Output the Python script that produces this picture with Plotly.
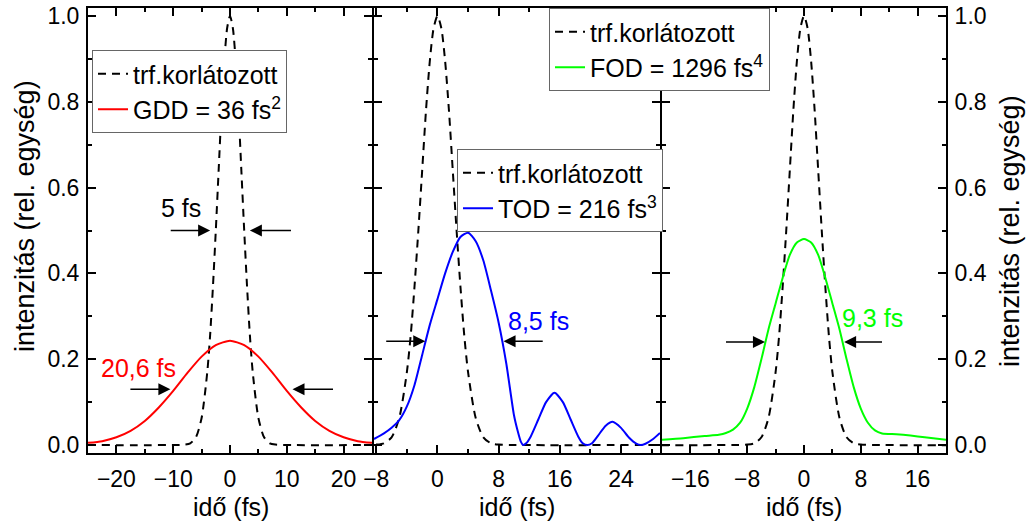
import plotly.graph_objects as go

# ---------------- data ----------------
# transform-limited pulse (dashed, shown in every panel)
t_tl = [-30, -10, -8, -7, -6, -5, -4, -3.5, -3, -2.5, -2, -1.5, -1, -0.5, 0,
        0.5, 1, 1.5, 2, 2.5, 3, 3.5, 4, 5, 6, 7, 8, 10, 30]
i_tl = [0, 0, 0.001, 0.004, 0.018, 0.063, 0.17, 0.256, 0.37, 0.5, 0.64, 0.78, 0.895, 0.972, 1.0,
        0.972, 0.895, 0.78, 0.64, 0.5, 0.37, 0.256, 0.17, 0.063, 0.018, 0.004, 0.001, 0, 0]

# GDD = 36 fs^2 (red)
t_gdd = [-25, -22.5, -20, -17.5, -15, -12.5, -10, -7.5, -5, -2.5, 0,
         2.5, 5, 7.5, 10, 12.5, 15, 17.5, 20, 22.5, 25]
i_gdd = [0.005, 0.009, 0.018, 0.033, 0.056, 0.088, 0.126, 0.168, 0.206, 0.233, 0.243,
         0.233, 0.206, 0.168, 0.126, 0.088, 0.056, 0.033, 0.018, 0.009, 0.005]

# TOD = 216 fs^3 (blue)
t_tod = [-8.3, -7, -6, -5, -4, -3, -2, -1, 0, 1, 2, 3, 4, 5, 6, 7, 8, 9, 10, 10.5, 10.9, 11.2,
         11.6, 12.2, 13.2, 14.2, 15.3, 16.4, 17.4, 18.4, 19.0, 19.6, 20.2, 21, 22, 22.9, 24, 25,
         26, 26.6, 27.2, 28.2, 29.1]
i_tod = [0.014, 0.027, 0.04, 0.058, 0.09, 0.14, 0.21, 0.28, 0.34, 0.40, 0.45, 0.485, 0.495, 0.475,
         0.43, 0.36, 0.285, 0.19, 0.07, 0.032, 0.008, 0.0,
         0.004, 0.02, 0.06, 0.1, 0.122, 0.1, 0.06, 0.02, 0.004, 0.0, 0.004, 0.022, 0.045, 0.054,
         0.04, 0.018, 0.003, 0.0, 0.003, 0.014, 0.028]

# FOD = 1296 fs^4 (green)
t_fod = [-20, -17, -14, -12, -11, -10, -9, -8, -7, -6, -5, -4, -3, -2, -1, 0,
         1, 2, 3, 4, 5, 6, 7, 8, 9, 10, 11, 13, 15, 17, 20]
i_fod = [0.012, 0.016, 0.021, 0.024, 0.028, 0.036, 0.052, 0.085, 0.135, 0.2, 0.27, 0.33, 0.39, 0.443, 0.472, 0.48,
         0.472, 0.443, 0.39, 0.33, 0.27, 0.2, 0.135, 0.085, 0.052, 0.034, 0.027, 0.025, 0.022, 0.018, 0.012]

legend_tl = "trf.korlátozott"
legend_gdd = "GDD = 36 fs<sup>2</sup>"
legend_tod = "TOD = 216 fs<sup>3</sup>"
legend_fod = "FOD = 1296 fs<sup>4</sup>"

# FWHM labels
fwhm_labels = ["5 fs", "20,6 fs", "8,5 fs", "9,3 fs"]

FONT = "Liberation Sans, Arial, sans-serif"
RED, BLUE, GREEN = "#ff0000", "#0000ff", "#00ff00"
DASH = "8px,6px"

fig = go.Figure()

def add_pair(xa, ya, leg, t, i, name, color):
    fig.add_trace(go.Scatter(x=t_tl, y=i_tl, mode="lines", name=legend_tl,
                             line=dict(color="black", width=2, dash=DASH, shape="spline", smoothing=0.7),
                             xaxis=xa, yaxis=ya, legend=leg))
    fig.add_trace(go.Scatter(x=t, y=i, mode="lines", name=name,
                             line=dict(color=color, width=2, shape="spline", smoothing=0.6),
                             xaxis=xa, yaxis=ya, legend=leg))

add_pair("x", "y", "legend", t_gdd, i_gdd, legend_gdd, RED)
add_pair("x2", "y2", "legend2", t_tod, i_tod, legend_tod, BLUE)
add_pair("x3", "y3", "legend3", t_fod, i_fod, legend_fod, GREEN)

W, H = 1027, 529
def px(x):
    return x / W
def py(y):
    return 1 - y / H

x_dom = [(88, 372), (374, 660), (662, 946)]
y_dom = [py(453), py(8)]
x_ranges = [[-25, 25], [-8.3, 29.1], [-20, 20]]
x_dticks = [(10, 5), (8, 4), (8, 4)]

common_axis = dict(showline=True, linewidth=2, linecolor="black", mirror="allticks",
                   ticks="inside", ticklen=8, tickwidth=2, tickcolor="black",
                   showgrid=False, zeroline=False, automargin=False,
                   tickfont=dict(family=FONT, size=23, color="black"))

layout = dict()
for k in range(3):
    sx = "" if k == 0 else str(k + 1)
    layout["xaxis" + sx] = dict(common_axis, domain=[px(x_dom[k][0]), px(x_dom[k][1])],
                                range=x_ranges[k], dtick=x_dticks[k][0], tick0=0,
                                anchor="y" + sx, ticklabelstandoff=4,
                                minor=dict(ticks="inside", ticklen=4, tickwidth=2, tickcolor="black",
                                           dtick=x_dticks[k][1], tick0=0, showgrid=False))
    layout["yaxis" + sx] = dict(common_axis, domain=y_dom, range=[-0.0186, 1.0186],
                                dtick=0.2, tick0=0, tickformat=".1f", anchor="x" + sx,
                                ticklabelstandoff=2,
                                showticklabels=(k != 1), side=("right" if k == 2 else "left"),
                                minor=dict(ticks="inside", ticklen=4, tickwidth=2, tickcolor="black",
                                           dtick=0.1, tick0=0, showgrid=False))

leg_common = dict(xanchor="left", yanchor="top", bgcolor="white", bordercolor="#666666",
                  borderwidth=1, font=dict(family=FONT, size=25, color="black"),
                  tracegroupgap=0, traceorder="normal")
layout["legend"] = dict(leg_common, x=px(92), y=py(50))
layout["legend2"] = dict(leg_common, x=px(457), y=py(149))
layout["legend3"] = dict(leg_common, x=px(549), y=py(8))

fig.update_layout(**layout)

ann = []
# axis titles
for cx in (231, 517, 804):
    ann.append(dict(text="idő (fs)", x=px(cx), y=py(507), xref="paper", yref="paper",
                    showarrow=False, font=dict(family=FONT, size=25, color="black"),
                    xanchor="center", yanchor="middle"))
ann.append(dict(text="intenzitás (rel. egység)", x=px(25), y=py(216), xref="paper", yref="paper",
                textangle=-90, showarrow=False, font=dict(family=FONT, size=27, color="black"),
                xanchor="center", yanchor="middle"))
ann.append(dict(text="intenzitás (rel. egység)", x=px(1010), y=py(231), xref="paper", yref="paper",
                textangle=-90, showarrow=False, font=dict(family=FONT, size=27, color="black"),
                xanchor="center", yanchor="middle"))

# FWHM labels
lab_pos = [("x", "y", -8.7, 0.552, "black"), ("x", "y", -16.1, 0.18, RED),
           ("x2", "y2", 13.2, 0.288, BLUE), ("x3", "y3", 9.7, 0.296, GREEN)]
for (xr, yr, xx, yy, c), txt in zip(lab_pos, fwhm_labels):
    ann.append(dict(text=txt, x=xx, y=yy, xref=xr, yref=yr, showarrow=False,
                    font=dict(family=FONT, size=25, color=c), xanchor="center", yanchor="middle"))

# FWHM arrows: (axis, tail x, head x, y)
arrows = [("x", "y", -10.7, -3.5, 0.5), ("x", "y", 11.0, 3.5, 0.5),
          ("x", "y", -17.8, -10.5, 0.13), ("x", "y", 18.4, 11.0, 0.13),
          ("x2", "y2", -6.9, -1.6, 0.242), ("x2", "y2", 13.96, 8.64, 0.242),
          ("x3", "y3", -11.2, -5.5, 0.24), ("x3", "y3", 11.2, 5.65, 0.24)]
for xr, yr, tx, hx, yy in arrows:
    ann.append(dict(text="", x=hx, y=yy, ax=tx, ay=yy, xref=xr, yref=yr, axref=xr, ayref=yr,
                    showarrow=True, arrowhead=2, arrowsize=1.5, arrowwidth=1.6, arrowcolor="black"))

fig.update_layout(annotations=ann, width=W, height=H, margin=dict(l=0, r=0, t=0, b=0),
                  plot_bgcolor="white", paper_bgcolor="white",
                  font=dict(family=FONT, size=23, color="black"))

fig.write_html("out.html")
